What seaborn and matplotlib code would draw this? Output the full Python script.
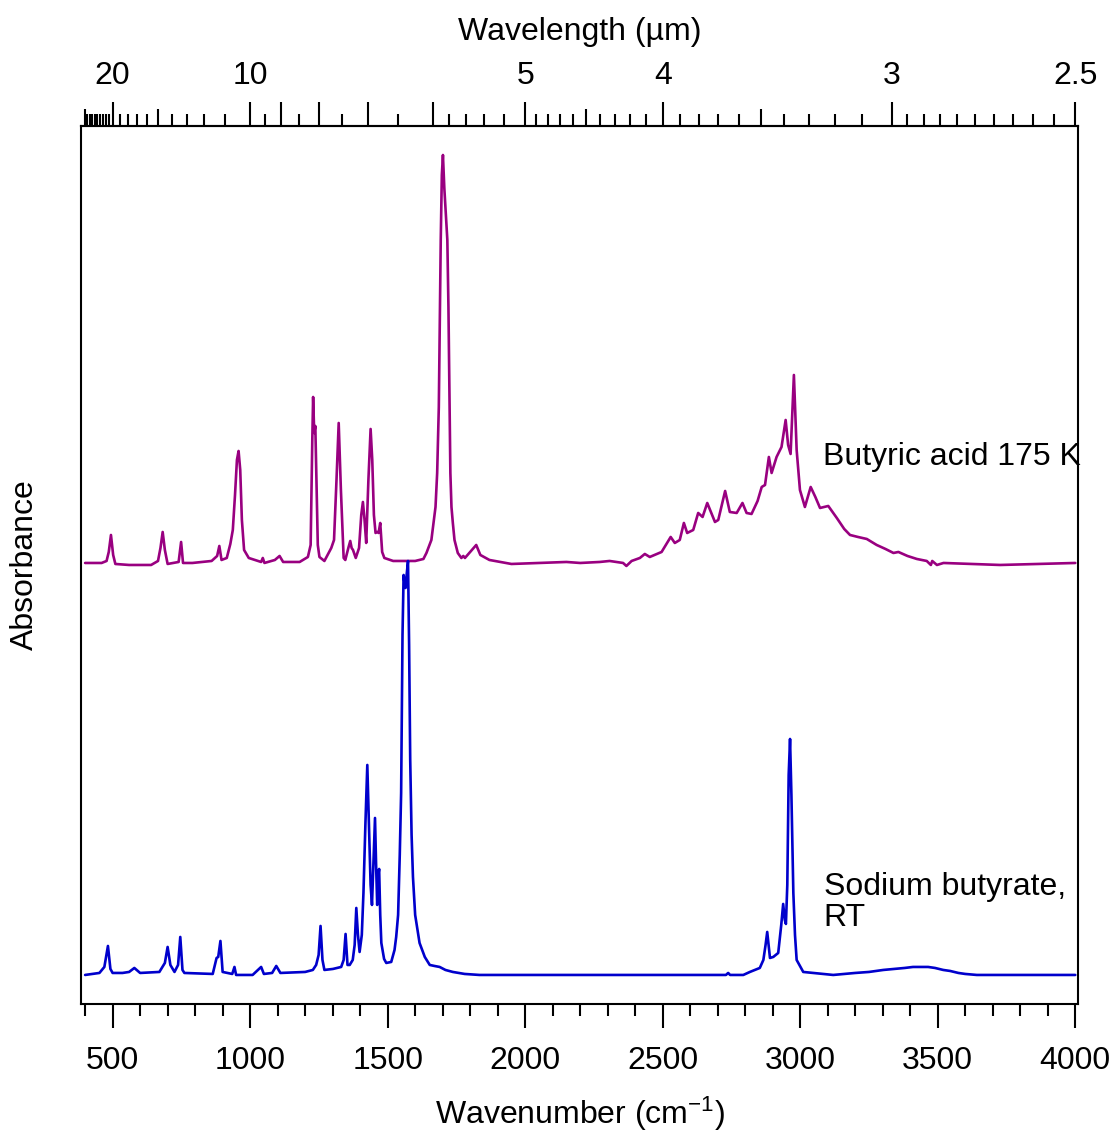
import numpy as np
import matplotlib
matplotlib.use("Agg")
import matplotlib.pyplot as plt
import seaborn as sns
from matplotlib.ticker import FixedLocator, MultipleLocator

# IR spectra, wavenumber in cm-1, absorbance above each trace's own baseline

# butyric acid at 175 K (upper trace)
acid_wn = [400, 460, 478, 486, 494, 502, 510, 560, 640, 665, 674, 682, 690, 700,
           740, 749, 756, 790, 860, 880, 888, 896, 915, 928, 937, 945, 952, 958,
           964, 970, 978, 995, 1040, 1046, 1052, 1090, 1107, 1120, 1180, 1210,
           1220, 1226, 1229, 1233, 1237, 1246, 1252, 1270, 1295, 1305, 1314, 1322,
           1330, 1340, 1346, 1358, 1364, 1369, 1374, 1384, 1396, 1404, 1410, 1416,
           1422, 1430, 1438, 1444, 1450, 1456, 1462, 1467, 1473, 1480, 1488, 1520,
           1600, 1630, 1641, 1659, 1674, 1680, 1686, 1690, 1693, 1697, 1701, 1706,
           1717, 1721, 1725, 1728, 1732, 1737, 1743, 1755, 1768, 1775, 1781, 1800,
           1822, 1837, 1870, 1950, 2050, 2150, 2200, 2271, 2307, 2356, 2368, 2387,
           2417, 2435, 2453, 2496, 2529, 2544, 2562, 2577, 2589, 2611, 2629, 2645,
           2662, 2690, 2702, 2727, 2744, 2769, 2790, 2805, 2823, 2845, 2860, 2872,
           2886, 2896, 2914, 2932, 2947, 2956, 2965, 2977, 2987, 2999, 3017, 3038,
           3055, 3072, 3102, 3120, 3133, 3160, 3181, 3210, 3242, 3260, 3278, 3310,
           3339, 3357, 3390, 3424, 3460, 3475, 3480, 3497, 3521, 3727, 4000]
acid_abs = [0.000, 0.000, 0.002, 0.011, 0.028, 0.008, -0.001, -0.002, -0.002, 0.002,
            0.015, 0.031, 0.013, -0.001, 0.001, 0.021, 0.000, 0.000, 0.002, 0.007,
            0.017, 0.003, 0.005, 0.019, 0.033, 0.068, 0.103, 0.112, 0.093, 0.043,
            0.013, 0.005, 0.001, 0.005, 0.000, 0.003, 0.007, 0.001, 0.001, 0.006,
            0.018, 0.123, 0.166, 0.130, 0.137, 0.018, 0.006, 0.002, 0.015, 0.023,
            0.083, 0.140, 0.073, 0.005, 0.003, 0.016, 0.022, 0.015, 0.013, 0.005,
            0.015, 0.048, 0.061, 0.043, 0.020, 0.083, 0.134, 0.103, 0.048, 0.030,
            0.031, 0.030, 0.040, 0.011, 0.005, 0.002, 0.002, 0.004, 0.010, 0.023,
            0.056, 0.090, 0.156, 0.256, 0.323, 0.388, 0.408, 0.375, 0.323, 0.256,
            0.156, 0.090, 0.056, 0.040, 0.023, 0.010, 0.005, 0.007, 0.005, 0.011,
            0.018, 0.008, 0.003, -0.001, 0.000, 0.001, 0.000, 0.001, 0.002, 0.000,
            -0.003, 0.002, 0.005, 0.009, 0.006, 0.011, 0.026, 0.020, 0.023, 0.040,
            0.030, 0.033, 0.050, 0.046, 0.060, 0.041, 0.043, 0.072, 0.051, 0.050,
            0.060, 0.050, 0.049, 0.062, 0.076, 0.078, 0.106, 0.090, 0.106, 0.116,
            0.143, 0.118, 0.109, 0.188, 0.113, 0.073, 0.056, 0.076, 0.066, 0.055,
            0.057, 0.050, 0.045, 0.034, 0.028, 0.026, 0.024, 0.021, 0.018, 0.014,
            0.010, 0.011, 0.007, 0.004, 0.002, -0.002, 0.002, -0.002, 0.000, -0.002,
            0.000]

# sodium butyrate at room temperature (lower trace)
salt_wn = [400, 452, 470, 483, 492, 500, 536, 560, 579, 600, 670, 690, 700, 710,
           725, 738, 746, 754, 761, 864, 878, 884, 892, 900, 935, 943, 949, 1009,
           1040, 1050, 1080, 1095, 1110, 1200, 1228, 1240, 1249, 1256, 1263, 1270,
           1301, 1331, 1340, 1347, 1354, 1362, 1373, 1380, 1386, 1392, 1398, 1406,
           1412, 1419, 1426, 1432, 1438, 1443, 1448, 1454, 1458, 1462, 1466, 1469,
           1473, 1477, 1487, 1495, 1513, 1525, 1531, 1538, 1544, 1549, 1554, 1558,
           1562, 1565, 1569, 1574, 1578, 1582, 1587, 1592, 1600, 1616, 1635, 1653,
           1670, 1689, 1710, 1737, 1780, 1834, 2010, 2300, 2600, 2730, 2738, 2745,
           2793, 2817, 2853, 2866, 2874, 2880, 2886, 2890, 2902, 2920, 2931, 2938,
           2944, 2948, 2953, 2958, 2963, 2968, 2975, 2981, 2987, 3011, 3120, 3200,
           3250, 3302, 3340, 3380, 3410, 3436, 3465, 3490, 3520, 3545, 3575, 3600,
           3642, 4000]
salt_abs = [0.000, 0.002, 0.008, 0.029, 0.006, 0.002, 0.002, 0.003, 0.007, 0.002,
            0.003, 0.012, 0.028, 0.010, 0.003, 0.010, 0.038, 0.005, 0.002, 0.001,
            0.017, 0.018, 0.034, 0.003, 0.001, 0.008, 0.000, 0.000, 0.008, 0.001,
            0.002, 0.009, 0.002, 0.003, 0.005, 0.010, 0.020, 0.049, 0.015, 0.005,
            0.006, 0.008, 0.015, 0.041, 0.010, 0.010, 0.015, 0.030, 0.067, 0.040,
            0.023, 0.040, 0.082, 0.150, 0.210, 0.150, 0.090, 0.070, 0.110, 0.157,
            0.110, 0.070, 0.100, 0.106, 0.060, 0.032, 0.016, 0.012, 0.013, 0.025,
            0.038, 0.060, 0.120, 0.182, 0.340, 0.400, 0.390, 0.387, 0.400, 0.414,
            0.330, 0.215, 0.140, 0.098, 0.060, 0.032, 0.018, 0.010, 0.009, 0.008,
            0.005, 0.003, 0.001, 0.000, 0.000, 0.000, 0.000, 0.000, 0.002, 0.000,
            0.000, 0.003, 0.007, 0.015, 0.030, 0.043, 0.028, 0.017, 0.018, 0.022,
            0.050, 0.071, 0.055, 0.051, 0.090, 0.200, 0.236, 0.180, 0.082, 0.040,
            0.015, 0.003, 0.000, 0.002, 0.003, 0.005, 0.006, 0.007, 0.008, 0.008,
            0.008, 0.007, 0.005, 0.004, 0.002, 0.001, 0.000, 0.000]

acid_offset = 0.412

# top axis (wavelength in um)
top_major = [20, 10, 9, 8, 7, 6, 5, 4, 3, 2.5]
top_major_labels = ["20", "10", "", "", "", "", "5", "4", "3", "2.5"]
top_medium = [25, 15, 4.5, 3.5]
top_minor = ([24.5, 24, 23.5, 23, 22.5, 22, 21.5, 21, 20.5]
             + [19, 18, 17, 16, 14, 13, 12, 11]
             + [9.5, 8.5, 7.5, 6.5]
             + [5.8, 5.6, 5.4, 5.2]
             + [4.9, 4.8, 4.7, 4.6, 4.4, 4.3, 4.2, 4.1]
             + [3.9, 3.8, 3.7, 3.6, 3.4, 3.3, 3.2, 3.1]
             + [2.95, 2.9, 2.85, 2.8, 2.75, 2.7, 2.65, 2.6, 2.55])

sns.set_style("white")
plt.rcParams['font.family'] = ['Liberation Sans', 'DejaVu Sans']
plt.rcParams['mathtext.fontset'] = 'custom'
plt.rcParams['mathtext.rm'] = 'Liberation Sans'
plt.rcParams['mathtext.it'] = 'Liberation Sans:italic'
plt.rcParams['mathtext.bf'] = 'Liberation Sans:bold'
for key in ['text.color', 'axes.labelcolor', 'xtick.color', 'ytick.color']:
    plt.rcParams[key] = 'black'

fs = 23
fig = plt.figure(figsize=(11.17, 11.33), dpi=100)
ax = fig.add_axes([0.0725, 0.1139, 0.8926, 0.7749])

sns.lineplot(x=acid_wn, y=np.array(acid_abs) + acid_offset, ax=ax,
             color="#990080", linewidth=1.9, estimator=None)
sns.lineplot(x=salt_wn, y=salt_abs, ax=ax,
             color="#0000cc", linewidth=1.9, estimator=None)

ax.set_xlim(385, 4010)
ax.set_ylim(-0.029, 0.849)

for s in ax.spines.values():
    s.set_visible(True)
    s.set_color("black")
    s.set_linewidth(1.5)

ax.xaxis.set_major_locator(MultipleLocator(500))
ax.xaxis.set_minor_locator(MultipleLocator(100))
ax.tick_params(axis='x', which='major', bottom=True, direction='out', length=17,
               width=1.5, labelsize=fs, pad=13, color='black')
ax.tick_params(axis='x', which='minor', bottom=True, direction='out', length=8.5,
               width=1.5, color='black')
ax.tick_params(axis='y', left=False, labelleft=False)
ax.set_xlabel("Wavenumber (cm$^{\\mathregular{-1}}$)", fontsize=fs, labelpad=14)
ax.set_ylabel("Absorbance", fontsize=fs)
ax.yaxis.set_label_coords(-0.041, 0.5)


def inv(x):
    with np.errstate(divide='ignore'):
        return 1e4 / np.asarray(x, dtype=float)


sec = ax.secondary_xaxis('top', functions=(inv, inv))
sec.set_xticks(top_major, labels=top_major_labels)
sec.xaxis.set_minor_locator(FixedLocator(top_minor))
sec.tick_params(which='major', direction='out', length=17, width=1.5,
                labelsize=fs, pad=8)
sec.tick_params(which='minor', direction='out', length=8.5, width=1.5)
sec.spines['top'].set_linewidth(1.5)
sec.set_xlabel("Wavelength (µm)", fontsize=fs, labelpad=15)

med = ax.secondary_xaxis('top', functions=(inv, inv))
med.set_xticks(top_medium, labels=[""] * len(top_medium))
med.xaxis.set_minor_locator(FixedLocator([]))
med.tick_params(which='major', direction='out', length=12.5, width=1.5)
for s in med.spines.values():
    s.set_visible(False)

ax.text(0.744, 0.623, "Butyric acid 175 K", transform=ax.transAxes,
        ha='left', va='center', fontsize=fs)
ax.text(0.745, 0.1156, "Sodium butyrate,\nRT", transform=ax.transAxes,
        ha='left', va='center', fontsize=fs, linespacing=1.05)

plt.savefig("out.png", dpi=100)
